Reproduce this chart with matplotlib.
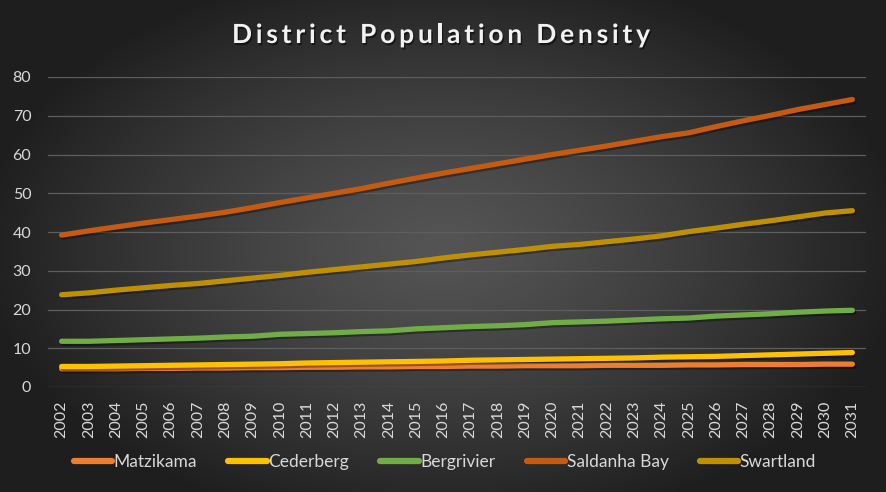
import numpy as np
import matplotlib
matplotlib.use('Agg')
import matplotlib.pyplot as plt
import matplotlib.patheffects as pe

# ---------------------------------------------------------------------------
# Data
# ---------------------------------------------------------------------------
years = [str(y) for y in range(2002, 2032)]

matzikama = [4.7, 4.7, 4.7, 4.8, 4.8, 4.9, 4.9, 5.0, 5.0, 5.1,
             5.1, 5.2, 5.2, 5.3, 5.3, 5.4, 5.4, 5.5, 5.5, 5.5,
             5.6, 5.6, 5.6, 5.7, 5.7, 5.8, 5.8, 5.8, 5.9, 5.9]
cederberg = [5.3, 5.3, 5.4, 5.5, 5.6, 5.7, 5.8, 5.9, 6.0, 6.2,
             6.3, 6.4, 6.5, 6.6, 6.7, 6.9, 7.0, 7.1, 7.2, 7.3,
             7.4, 7.5, 7.7, 7.8, 7.9, 8.1, 8.3, 8.5, 8.7, 8.9]
bergrivier = [11.8, 11.8, 12.0, 12.2, 12.4, 12.6, 12.9, 13.1, 13.6, 13.8,
              14.0, 14.3, 14.5, 15.0, 15.3, 15.6, 15.8, 16.1, 16.6, 16.8,
              17.0, 17.3, 17.6, 17.8, 18.3, 18.6, 18.9, 19.3, 19.6, 19.8]
saldanha_bay = [39.2, 40.3, 41.3, 42.3, 43.2, 44.1, 45.1, 46.3, 47.6, 48.8,
                50.0, 51.2, 52.6, 53.9, 55.2, 56.4, 57.6, 58.8, 60.0, 61.1,
                62.2, 63.4, 64.6, 65.6, 67.2, 68.7, 70.1, 71.6, 72.9, 74.2]
swartland = [23.8, 24.3, 25.0, 25.6, 26.2, 26.7, 27.4, 28.1, 28.8, 29.6,
             30.3, 31.0, 31.7, 32.4, 33.3, 34.1, 34.8, 35.5, 36.3, 36.8,
             37.5, 38.2, 39.0, 40.1, 41.0, 42.0, 42.9, 43.9, 44.9, 45.5]

series_names = ['Matzikama', 'Cederberg', 'Bergrivier', 'Saldanha Bay', 'Swartland']
series_colors = ['#ED7D31', '#FFC000', '#70AD47', '#C55A11', '#BF9000']
series_values = [matzikama, cederberg, bergrivier, saldanha_bay, swartland]

title = 'District Population Density'


def spaced_title(fig, s, xc, y, total_w, **kw):
    # matplotlib has no letter spacing, so place the characters one by one
    renderer = fig.canvas.get_renderer()

    def width(t):
        if not t:
            return 0.0
        tmp = fig.text(0, 0, t.replace(' ', '\u00a0'), **kw)
        w = tmp.get_window_extent(renderer).width
        tmp.remove()
        return w

    natural = width(s)
    gap = (total_w - natural) / (len(s) - 1)
    x0 = xc - total_w / 2
    W = fig.bbox.width
    for i, ch in enumerate(s):
        if ch == ' ':
            continue
        xpix = x0 + width(s[:i]) + i * gap
        fig.text(xpix / W, y, ch, ha='left', va='center', **kw)


# ---------------------------------------------------------------------------
# Figure with radial dark gradient background
# ---------------------------------------------------------------------------
fig = plt.figure(figsize=(8.86, 4.92), dpi=100)

bg = fig.add_axes([0, 0, 1, 1], zorder=-1)
gx, gy = np.meshgrid(np.linspace(-1, 1, 443), np.linspace(-1, 1, 246))
r = np.clip(np.sqrt((gx * 0.95) ** 2 + (gy * 0.85) ** 2), 0, 1)
shade = (84 - 54 * r ** 1.3) / 255.0
bg.imshow(np.dstack([shade, shade, shade]), aspect='auto', extent=[0, 1, 0, 1],
          interpolation='bilinear')
bg.set_axis_off()

ax = fig.add_axes([48 / 886, 105 / 492, 818 / 886, 310 / 492])
ax.set_facecolor('none')

x = np.arange(len(years))
for name, color, vals in zip(series_names, series_colors, series_values):
    ax.plot(x, vals, color=color, lw=3.8, label=name, solid_capstyle='round',
            solid_joinstyle='round', zorder=3,
            path_effects=[pe.SimpleLineShadow(offset=(1.2, -1.5), shadow_color='black', alpha=0.35),
                          pe.Normal()])

ax.set_xlim(-0.5, len(years) - 0.5)
ax.set_ylim(0, 80)
ax.set_yticks(range(0, 81, 10))
ax.set_xticks(x)
ax.set_xticklabels(years, rotation=90)
ax.tick_params(axis='both', length=0, colors='#D9D9D9', labelsize=11.5)
for lab in ax.get_xticklabels() + ax.get_yticklabels():
    lab.set_family('Lato')
ax.tick_params(axis='y', pad=12)
ax.tick_params(axis='x', pad=10)
ax.grid(axis='y', color='#5E5E5E', lw=0.9)
ax.set_axisbelow(True)
for s in ax.spines.values():
    s.set_visible(False)

spaced_title(fig, title, 441, 1 - 35 / 492, 418,
             color='#F2F2F2', fontsize=19, fontweight='bold', family='Lato',
             path_effects=[pe.withSimplePatchShadow(offset=(1, -1.5), shadow_rgbFace='black', alpha=0.5)])

leg = fig.legend(loc='center', bbox_to_anchor=(445 / 886, 1 - 462 / 492), ncol=5,
                 frameon=False, prop={'family': 'Lato', 'size': 12.5}, handlelength=2.2,
                 handletextpad=0.1, columnspacing=1.8, labelcolor='#D9D9D9')
for h in leg.legend_handles:
    h.set_linewidth(4.5)
    h.set_path_effects([])

fig.savefig('out.png', dpi=100, facecolor='#2a2a2a')
